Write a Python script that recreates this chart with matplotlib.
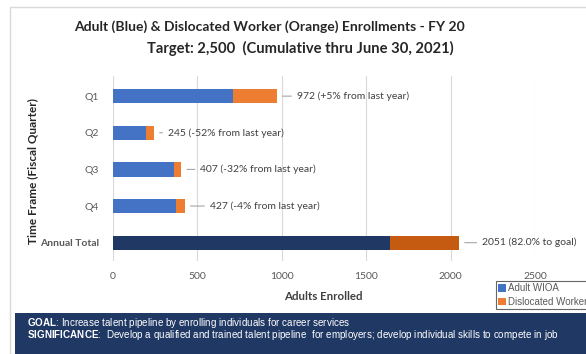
import numpy as np
import matplotlib.pyplot as plt
from matplotlib.patches import Rectangle

# DADOS
categorias = ['Q1', 'Q2', 'Q3', 'Q4', 'Annual Total']
adult = [710, 198, 360, 375, 1643]
dislocated = [262, 47, 47, 52, 408]
rotulos = ['972 (+5% from last year)', '245 (-52% from last year)',
           '407 (-32% from last year)', '427 (-4% from last year)',
           '2051 (82.0% to goal)']
xticks = [0, 500, 1000, 1500, 2000, 2500]

# distancia (px) entre fim da barra e o texto
desloc_px = [20, 14, 19, 25, 23]

cor_azul = '#4472C4'
cor_laranja = '#ED7D31'
cor_azul_esc = '#1F3864'
cor_laranja_esc = '#C55A11'
cinza_txt = '#595959'

plt.rcParams['font.family'] = ['Lato', 'DejaVu Sans']
plt.rcParams['mathtext.fontset'] = 'custom'
plt.rcParams['mathtext.rm'] = 'Liberation Sans'
plt.rcParams['mathtext.bf'] = 'Liberation Sans:bold'

fig = plt.figure(figsize=(5.86, 3.54), dpi=100)
W, H = 586, 354

# moldura externa
fig.patches.append(Rectangle((10 / W, 0), 1, 1 - 7 / H, transform=fig.transFigure,
                             fill=False, edgecolor='#D9D9D9', linewidth=1.0))

ax = fig.add_axes([112.7 / W, 1 - 261 / H, (535 - 112.7) / W, 185 / H])

y = np.arange(len(categorias))
cores_a = [cor_azul] * 4 + [cor_azul_esc]
cores_d = [cor_laranja] * 4 + [cor_laranja_esc]
ax.barh(y, adult, height=0.39, color=cores_a, label='Adult WIOA', zorder=3)
ax.barh(y, dislocated, left=adult, height=0.39, color=cores_d,
        label='Dislocated Worker', zorder=3)

totais = np.array(adult) + np.array(dislocated)
for i, (tot, txt) in enumerate(zip(totais, rotulos)):
    ax.annotate(txt, xy=(tot, i), xytext=(desloc_px[i] * 0.72, 0),
                textcoords='offset points', ha='left', va='center',
                fontsize=7.5, color='#404040', annotation_clip=False,
                arrowprops=dict(arrowstyle='-', color='#A6A6A6', lw=0.8,
                                shrinkA=2, shrinkB=4))

ax.set_xlim(0, 2500)
ax.set_ylim(4.5, -0.55)
ax.set_xticks(xticks)
ax.set_xticklabels([str(v) for v in xticks], fontsize=7.5, color=cinza_txt)
ax.set_yticks(y)
ax.set_yticklabels(categorias, fontsize=7.5, color=cinza_txt)
ax.get_yticklabels()[-1].set_fontweight('bold')
ax.tick_params(length=0, pad=8)
ax.tick_params(axis='y', pad=10)
ax.grid(axis='x', color='#D9D9D9', linewidth=0.8, zorder=0)
for s in ax.spines.values():
    s.set_visible(False)

fig.text(323 / W, 1 - 296 / H, 'Adults Enrolled', ha='center', va='center',
         fontsize=8.3, fontweight='bold', color='#404040')
fig.text(33 / W, 1 - 171 / H, 'Time Frame (Fiscal Quarter)', ha='center', va='center',
         rotation=90, fontsize=8.5, fontweight='bold', color='#262626')

fig.text(269 / W, 1 - 27 / H,
         'Adult (Blue) & Dislocated Worker (Orange) Enrollments - FY 20',
         ha='center', va='center', fontsize=10, fontweight='bold', color='#262626')
fig.text(300 / W, 1 - 48 / H, 'Target: 2,500  (Cumulative thru June 30, 2021)',
         ha='center', va='center', fontsize=10.6, fontweight='bold', color='#262626')

leg = fig.legend(loc='upper left', bbox_to_anchor=(496 / W, 1 - 281 / H),
                 frameon=True, fancybox=False, edgecolor='#404040',
                 handlelength=0.8, handleheight=0.8, handletextpad=0.2,
                 borderpad=0.25, labelspacing=0.35, borderaxespad=0,
                 prop={'family': 'Liberation Sans', 'size': 7})
leg.get_frame().set_linewidth(0.8)
for t in leg.get_texts():
    t.set_color(cinza_txt)

# rodape
fig.patches.append(Rectangle((15 / W, 0), 1, 41 / H, transform=fig.transFigure,
                             facecolor='#203864', edgecolor='none'))
texto_rodape = (r'$\mathbf{GOAL}$: Increase talent pipeline by enrolling individuals for career services'
                '\n'
                r'$\mathbf{SIGNIFICANCE}$:  Develop a qualified and trained talent pipeline  for employers; '
                'develop individual skills to compete in job')
fig.text(27 / W, 1 - 329 / H, texto_rodape, ha='left', va='center', linespacing=0.72,
         fontsize=7.1, color='white', family='Liberation Sans')

fig.savefig('out.png', dpi=100)
